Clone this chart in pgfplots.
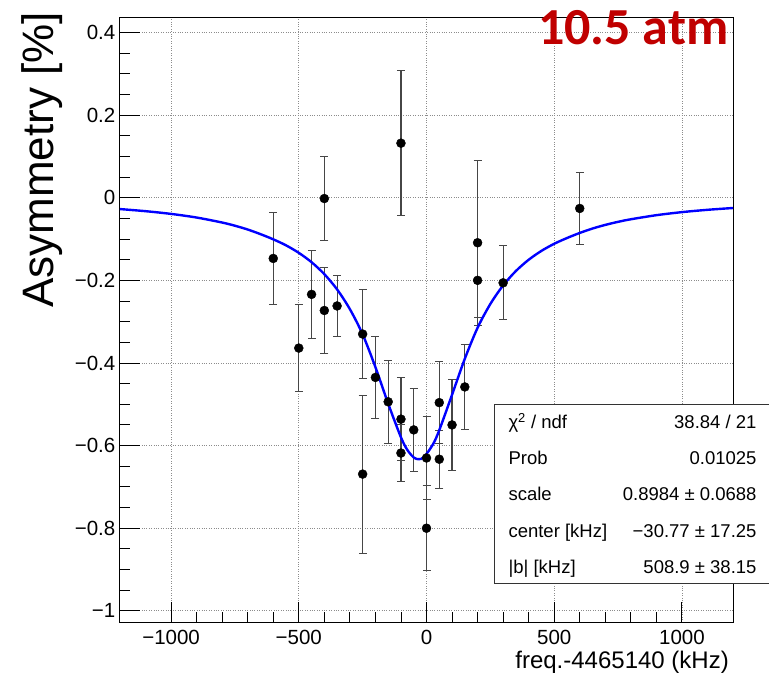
\documentclass[border=0pt]{standalone}
\usepackage{pgfplots}
\pgfplotsset{compat=1.18}
\usepackage{pgfplotstable}
\usepackage{fontspec}
\setmainfont{Liberation Sans}
\newfontfamily\carlito{Carlito}
\definecolor{titlered}{RGB}{192,0,0}
\definecolor{gridgray}{RGB}{140,140,140}
\definecolor{errgray}{RGB}{70,70,70}

\pgfplotstableread{
x y e
-600 -0.147 0.111
-500 -0.364 0.106
-450 -0.234 0.106
-400 -0.002 0.102
-400 -0.273 0.103
-350 -0.262 0.073
-250 -0.330 0.107
-250 -0.669 0.191
-200 -0.435 0.100
-150 -0.494 0.100
-100 0.132 0.176
-100 -0.536 0.100
-100 -0.618 0.070
-50 -0.562 0.100
0 -0.630 0.100
0 -0.800 0.103
50 -0.496 0.100
50 -0.633 0.070
100 -0.550 0.110
150 -0.458 0.103
200 -0.109 0.200
200 -0.200 0.090
300 -0.206 0.090
600 -0.026 0.088
}\datatable

\pgfplotstableread{
x y
-1200 -0.0275
-1100 -0.0326
-1000 -0.0392
-900 -0.0480
-800 -0.0601
-750 -0.0678
-700 -0.0770
-650 -0.0882
-600 -0.1007
-550 -0.1153
-500 -0.1334
-450 -0.1561
-400 -0.1850
-350 -0.2220
-300 -0.2697
-250 -0.3308
-200 -0.4100
-150 -0.4985
-100 -0.5800
-75 -0.6105
-50 -0.6287
-31 -0.6330
-10 -0.6278
25 -0.5973
50 -0.5627
100 -0.4770
150 -0.3898
200 -0.3148
250 -0.2572
300 -0.2123
350 -0.1774
400 -0.1502
450 -0.1287
500 -0.1115
550 -0.0976
600 -0.0853
650 -0.0746
700 -0.0658
750 -0.0584
800 -0.0522
900 -0.0423
1000 -0.0349
1100 -0.0293
1200 -0.0249
}\fittable

\begin{document}
\begin{tikzpicture}
\path[use as bounding box] (-120pt,-61pt) rectangle (649pt,622pt);
\begin{axis}[
  at={(0pt,0pt)}, anchor=south west,
  scale only axis, width=613pt, height=604pt,
  xmin=-1200, xmax=1200, ymin=-1.027, ymax=0.435,
  xtick={-1000,-500,0,500,1000},
  xticklabels={−1000,−500,0,500,1000},
  ytick={-1,-0.8,-0.6,-0.4,-0.2,0,0.2,0.4},
  yticklabels={−1,−0.8,−0.6,−0.4,−0.2,0,0.2,0.4},
  minor x tick num=4, minor y tick num=3,
  tick pos=left,
  tick align=inside,
  major tick length=20pt, minor tick length=10pt,
  every tick/.style={black, line width=0.9pt},
  grid=major,
  major grid style={dotted, gridgray, line width=0.8pt},
  axis line style={line width=1pt, black},
  ticklabel style={font=\fontsize{20.5}{24}\selectfont},
  yticklabel style={inner sep=0pt, xshift=-4.5pt},
  xticklabel style={inner sep=0pt, yshift=-8pt},
]
\addplot[only marks, mark=*, mark size=4.5pt, black, mark options={fill=black},
  error bars/.cd, y dir=both, y explicit,
  error bar style={line width=1.2pt, errgray},
  error mark options={rotate=90, line width=1pt, errgray, mark size=4pt}
] table[x=x, y=y, y error=e] {\datatable};
\addplot[blue, line width=2.4pt, smooth, no markers] table[x=x, y=y] {\fittable};
\end{axis}

% stats box
\draw[draw=black!80, fill=white, line width=1pt] (374.7pt,38pt) rectangle (655pt,217.7pt);
\begin{scope}[every node/.style={font=\fontsize{18.5}{22}\selectfont, inner sep=0pt}]
\node[anchor=base west] at (388.3pt,193.5pt) {χ\textsuperscript{2} / ndf};
\node[anchor=base east] at (636.7pt,193.5pt) {38.84 / 21};
\node[anchor=base west] at (388.3pt,157.3pt) {Prob};
\node[anchor=base east] at (636.7pt,157.3pt) {0.01025};
\node[anchor=base west] at (388.3pt,121.1pt) {scale};
\node[anchor=base east] at (636.7pt,121.1pt) {0.8984 ± 0.0688};
\node[anchor=base west] at (388.3pt,84.9pt) {center [kHz]};
\node[anchor=base east] at (636.7pt,84.9pt) {−30.77 ± 17.25};
\node[anchor=base west] at (388.3pt,48.7pt) {|b| [kHz]};
\node[anchor=base east] at (636.7pt,48.7pt) {508.9 ± 38.15};
\end{scope}

% axis titles
\node[rotate=90, anchor=base east, inner sep=0pt, font=\fontsize{44}{50}\selectfont] at (-66.7pt,610pt) {Asymmetry [\%]};
\node[anchor=base east, inner sep=0pt, font=\fontsize{24}{28}\selectfont] at (609pt,-46pt) {freq.-4465140 (kHz)};
\node[anchor=base east, inner sep=0pt, text=titlered, font=\carlito\bfseries\fontsize{52}{60}\selectfont] at (608.5pt,577pt) {10.5 atm};
\end{tikzpicture}
\end{document}
